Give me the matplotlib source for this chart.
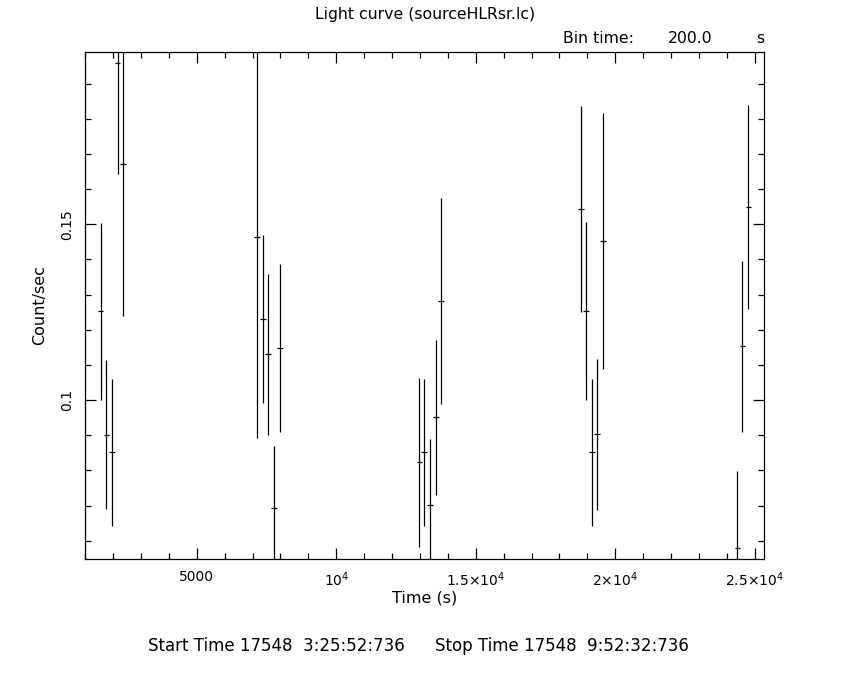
import matplotlib
matplotlib.use('Agg')
import matplotlib.pyplot as plt
from matplotlib.ticker import MultipleLocator, FixedLocator, FixedFormatter

# bin centres (s), rates (count/s) and 1-sigma errors
tempo = [1555, 1760, 1955, 2160, 2350,
         7150, 7365, 7560, 7760, 7975,
         12980, 13150, 13360, 13565, 13755,
         18780, 18960, 19170, 19355, 19570,
         24380, 24560, 24770]
taxa = [0.1252, 0.0902, 0.0851, 0.1958, 0.1671,
        0.1465, 0.1231, 0.1131, 0.0694, 0.1148,
        0.0823, 0.0851, 0.0701, 0.0951, 0.1282,
        0.1544, 0.1253, 0.0852, 0.0903, 0.1452,
        0.0578, 0.1153, 0.1549]
erro = [0.0252, 0.0213, 0.0209, 0.0314, 0.0433,
        0.0574, 0.0238, 0.0229, 0.0176, 0.0238,
        0.0240, 0.0208, 0.0188, 0.0220, 0.0293,
        0.0293, 0.0253, 0.0209, 0.0215, 0.0365,
        0.0221, 0.0243, 0.0290]
meia_bin = 100  # bin time 200 s

xticks = [5000, 10000, 15000, 20000, 25000]
xtick_labels = ['5000', r'10$^4$', r'1.5$\times$10$^4$', r'2$\times$10$^4$', r'2.5$\times$10$^4$']
yticks = [0.1, 0.15]
ytick_labels = ['0.1', '0.15']

fig = plt.figure(figsize=(8.5, 6.8), dpi=100)
ax = fig.add_axes([0.1, 0.178, 0.799, 0.746])

ax.errorbar(tempo, taxa, yerr=erro, xerr=meia_bin, fmt='none', ecolor='black',
            elinewidth=0.9, capsize=0)

ax.set_xlim(995, 25336)
ax.set_ylim(0.0548, 0.1991)

ax.xaxis.set_major_locator(FixedLocator(xticks))
ax.xaxis.set_major_formatter(FixedFormatter(xtick_labels))
ax.xaxis.set_minor_locator(MultipleLocator(1000))
ax.yaxis.set_major_locator(FixedLocator(yticks))
ax.yaxis.set_major_formatter(FixedFormatter(ytick_labels))
ax.yaxis.set_minor_locator(MultipleLocator(0.01))

ax.tick_params(which='both', direction='in', top=True, right=True, width=0.9, labelsize=10)
ax.tick_params(which='major', length=8, pad=8)
ax.tick_params(which='minor', length=4)
for lbl in ax.get_yticklabels():
    lbl.set_rotation(90)
    lbl.set_va('center')
for s in ax.spines.values():
    s.set_linewidth(0.9)

ax.set_xlabel('Time (s)', fontsize=11.5, labelpad=1)
ax.set_ylabel('Count/sec', fontsize=11.5, labelpad=9)

fig.text(0.5, 0.979, 'Light curve (sourceHLRsr.lc)', ha='center', va='center', fontsize=11.3)
fig.text(0.662, 0.944, 'Bin time:', ha='left', va='center', fontsize=11.3)
fig.text(0.812, 0.944, '200.0', ha='center', va='center', fontsize=11.3)
fig.text(0.894, 0.944, 's', ha='center', va='center', fontsize=11.3)
fig.text(0.174, 0.05, 'Start Time 17548  3:25:52:736', ha='left', va='center', fontsize=12)
fig.text(0.512, 0.05, 'Stop Time 17548  9:52:32:736', ha='left', va='center', fontsize=12)

fig.savefig('out.png', dpi=100)
plt.close(fig)
